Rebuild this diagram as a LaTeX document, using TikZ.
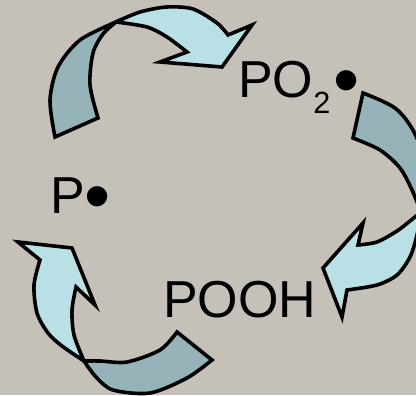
\documentclass[tikz,border=0pt]{standalone}
\usepackage{fontspec}
\setmainfont{Liberation Sans}
\usepackage{xcolor}
\usepackage{tikz}
\definecolor{CYBack}{HTML}{C5C1B8}
\definecolor{CYLight}{HTML}{B9E0E4}
\definecolor{CYDark}{HTML}{95B3B8}
\newcommand{\radot}{\raisebox{-6pt}{\fontsize{56}{56}\selectfont •}}
\tikzset{band/.style={draw=black,line width=2.7pt,line join=miter,miter limit=10},
  species/.style={anchor=base west,inner sep=0pt,font=\fontsize{39}{42}\selectfont}}
\begin{document}
\begin{tikzpicture}[x=0.75pt,y=-0.75pt]
\path[use as bounding box] (0,0) rectangle (416,395);
\fill[CYBack] (0,0) rectangle (416,395);
\clip (0,0) rectangle (416,395);
% top arrow, P to PO2
\filldraw[band,fill=CYDark] (55,137) -- (98,118) -- plot[smooth] coordinates {(98,118) (90,85) (93,53) (103,34) (116,22)} -- plot[smooth] coordinates {(116,22) (80,40) (58,67) (50,100) (55,137)} -- cycle;
\filldraw[band,fill=CYLight] plot[smooth] coordinates {(116,22) (140,12) (167,7) (193,9) (217,23) (228,35)} -- (252,25) -- (222,67) -- (160,62) -- (187,52) -- plot[smooth] coordinates {(187,52) (167,37) (147,27) (116,22)} -- cycle;
% right arrow, PO2 to POOH
\filldraw[band,fill=CYDark] (363,93) -- (353,138) -- plot[smooth] coordinates {(353,138) (380,150) (400,168) (412,190) (421,212)} -- plot[smooth] coordinates {(421,212) (427,170) (414,132) (395,108) (363,93)} -- cycle;
\filldraw[band,fill=CYLight] plot[smooth] coordinates {(421,212) (417,235) (410,257) (397,275) (377,285) (347,290)} -- (342,317) -- (323,268) -- (363,223) -- (358,245) -- plot[smooth] coordinates {(358,245) (377,242) (397,231) (410,221) (421,212)} -- cycle;
% bottom arrow, POOH to P
\filldraw[band,fill=CYDark] (177,332) -- (212,360) -- plot[smooth] coordinates {(212,360) (187,378) (150,393) (113,390) (96,377) (84,361)} -- plot[smooth] coordinates {(84,361) (100,361) (127,362) (160,350) (177,332)} -- cycle;
\filldraw[band,fill=CYLight] plot[smooth] coordinates {(84,361) (62,346) (48,333) (37,313) (34,285) (40,260)} -- (18,242) -- (72,248) -- (95,305) -- (76,287) -- plot[smooth] coordinates {(76,287) (72,310) (74,335) (84,361)} -- cycle;
% species
\node[species] (P) at (50,213) {P\radot};
\node[species] (PO2) at (238,98) {PO\raisebox{-12pt}{\fontsize{23}{23}\selectfont 2}\kern2pt\radot};
\node[species] (POOH) at (163,317) {POOH};
\end{tikzpicture}
\end{document}
